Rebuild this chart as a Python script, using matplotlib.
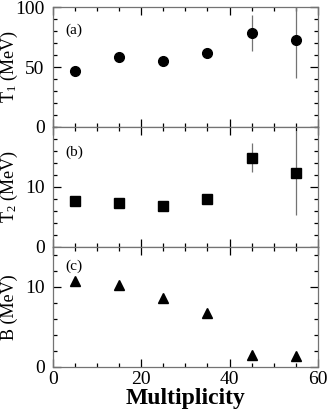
import matplotlib
matplotlib.use("Agg")
import matplotlib.pyplot as plt
from matplotlib.ticker import MultipleLocator

plt.rcParams['font.family'] = ['Liberation Serif', 'DejaVu Serif']
plt.rcParams['mathtext.default'] = 'regular'

# data
multiplicity = [5, 15, 25, 35, 45, 55]
t1 = [46.7, 58.2, 55.0, 61.8, 78.0, 72.3]
t1_err = [0, 0, 0, 0, 15.0, 31.5]
t2 = [7.6, 7.3, 6.9, 8.0, 14.9, 12.4]
t2_err = [0, 0, 0, 0, 2.4, 7.0]
b_vals = [10.8, 10.2, 8.6, 6.7, 1.5, 1.3]

panel_labels = ['(a)', '(b)', '(c)']
y_labels = ['T$_1$ (MeV)', 'T$_2$ (MeV)', 'B (MeV)']

fig = plt.figure(figsize=(3.27, 4.15), dpi=100)
left, width, h = 0.162, 0.810, 0.289
bottoms = [0.694, 0.405, 0.116]
axes = [fig.add_axes([left, b, width, h]) for b in bottoms]

err_kw = dict(ecolor='0.45', elinewidth=0.9, capsize=0, linestyle='none', color='black')
axes[0].errorbar(multiplicity, t1, yerr=t1_err, fmt='o', markersize=7, **err_kw)
axes[1].errorbar(multiplicity, t2, yerr=t2_err, fmt='s', markersize=6.8, **err_kw)
axes[2].plot(multiplicity, b_vals, '^', color='black', markersize=7, linestyle='none')

axes[0].set_ylim(0, 100)
axes[0].yaxis.set_major_locator(MultipleLocator(50))
axes[0].yaxis.set_minor_locator(MultipleLocator(10))
axes[1].set_ylim(0, 20)
axes[1].set_yticks([0, 10])
axes[1].yaxis.set_minor_locator(MultipleLocator(2))
axes[2].set_ylim(0, 15)
axes[2].set_yticks([0, 10])
axes[2].yaxis.set_minor_locator(MultipleLocator(2))

label_y = [0.81, 0.79, 0.84]
for ax, pl, yl, ly in zip(axes, panel_labels, y_labels, label_y):
    ax.set_xlim(0, 60)
    ax.xaxis.set_major_locator(MultipleLocator(20))
    ax.xaxis.set_minor_locator(MultipleLocator(5))
    ax.tick_params(which='both', direction='in', top=True, right=True,
                   labelsize=14, pad=3, color='black')
    ax.tick_params(axis='y', which='major', pad=6)
    ax.tick_params(which='major', length=6, width=0.9)
    ax.tick_params(which='minor', length=3, width=0.9)
    for s in ax.spines.values():
        s.set_color('0.45')
        s.set_linewidth(0.9)
    ax.text(0.045, ly, pl, transform=ax.transAxes, fontsize=11, va='center')
    ax.set_ylabel(yl, fontsize=13, va='center')
    ax.yaxis.set_label_coords(-0.165, 0.5)

for ax in axes[:2]:
    ax.tick_params(labelbottom=False)

axes[2].set_xlabel('Multiplicity', fontsize=17, fontweight='bold', labelpad=0)

fig.savefig('out.png', dpi=100)
